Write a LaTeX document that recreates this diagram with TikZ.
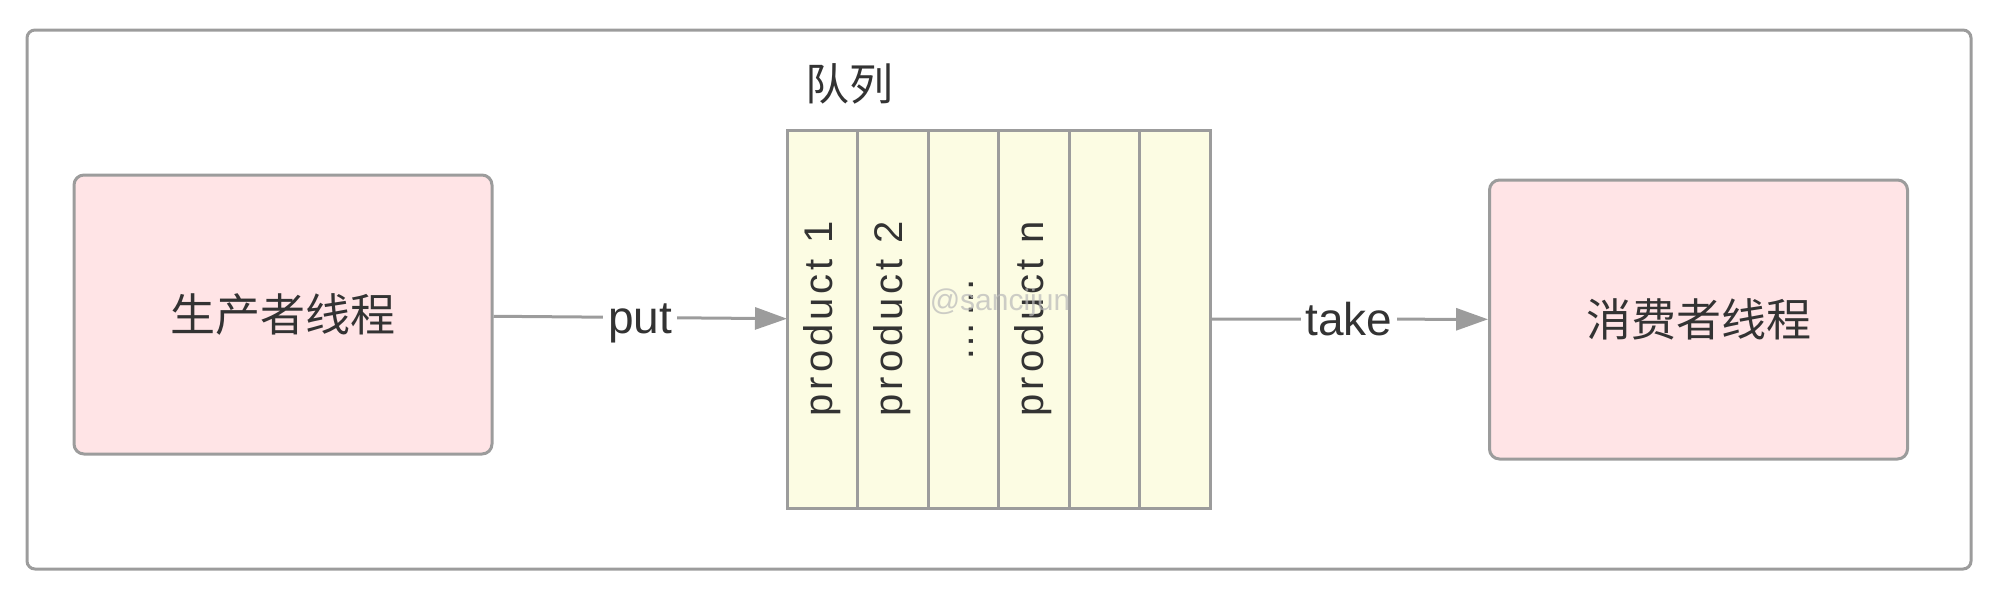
\documentclass[tikz,border=0pt]{standalone}
\usepackage{fontspec}
\setmainfont{Liberation Sans}
\newfontfamily\cjk{Noto Sans CJK SC}
\newfontfamily\spaced[LetterSpace=10]{Liberation Sans}
\usetikzlibrary{positioning,arrows.meta}
\definecolor{edge}{HTML}{9C9C9C}
\definecolor{ink}{HTML}{333333}
\definecolor{pinkfill}{HTML}{FFE4E6}
\definecolor{cellfill}{HTML}{FCFCE3}
\begin{document}
\begin{tikzpicture}[x=0.5pt, y=-0.5pt, node distance=0pt, text=ink,
        thread/.style = {draw=edge, line width=1.5pt, fill=pinkfill, rounded corners=5pt, minimum width=209pt, minimum height=139.5pt, font=\cjk\fontsize{22.5}{27}\selectfont},
        cell/.style = {draw=edge, line width=1.5pt, fill=cellfill, minimum width=35.25pt, minimum height=189pt, outer sep=0pt, inner sep=0pt},
        item/.style = {rotate=90, inner sep=0pt, text height=15pt, text depth=5pt, font=\spaced\fontsize{20}{24}\selectfont},
        arr/.style = {draw=edge, line width=1.5pt, -{Triangle[length=16pt, width=11pt]}},
        lbl/.style = {fill=white, inner sep=2.5pt, text height=16.1pt, text depth=0pt, font=\fontsize{23}{28}\selectfont}]
        \useasboundingbox (0,0) rectangle (2000,606);
        \draw[draw=edge, line width=1.5pt, rounded corners=4pt] (27,30) rectangle (1971,569);
        \node[thread] (prod) at (283,314.5) {生产者线程};
        \node[thread] (cons) at (1698.5,319.5) {消费者线程};
        \node[cell] (c1) at (822.25,319) {};
        \node[cell] (c2) [right=of c1] {};
        \node[cell] (c3) [right=of c2] {};
        \node[cell] (c4) [right=of c3] {};
        \node[cell] (c5) [right=of c4] {};
        \node[cell] (c6) [right=of c5] {};
        \node[font=\cjk\fontsize{22}{26}\selectfont] (queue) at (849,84) {队列};
        \node[item] (p1) at (c1) {product 1};
        \node[item] (p2) at (c2) {product 2};
        \node[item] (dots) at (c3) {……};
        \node[item] (pn) at (c4) {product n};
        \draw[arr] (prod) -- node[lbl] {put} (c1);
        \draw[arr] (c6) -- node[lbl] {take} (cons);
        \node[text=gray!55, opacity=0.7, font=\fontsize{15}{18}\selectfont] (mark) at (1000,303) {@sancijun};
    \end{tikzpicture}
\end{document}
